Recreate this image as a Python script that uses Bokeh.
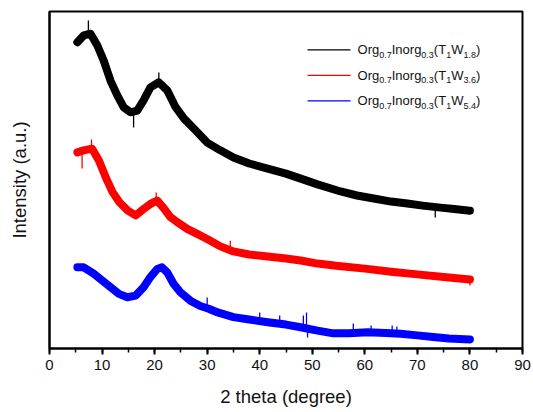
from bokeh.plotting import figure
from bokeh.models import Range1d, SingleIntervalTicker, FixedTicker, Label
from bokeh.embed import file_html
from bokeh.resources import INLINE

# ---- XRD patterns (2θ in degrees, intensity in arbitrary units, stacked) ----
theta_18 = [5.3, 6.5, 7.8, 9.1, 10.3, 11.6, 12.9, 14.1, 15.4, 16.7, 17.9, 19.2,
            20.8, 22.4, 24.0, 25.6, 27.5, 30.0, 32.5, 35.0, 38.0, 41.5, 45.0,
            47.8, 51.0, 55.4, 58.5, 61.7, 65.0, 68.1, 71.0, 74.4, 77.0, 80.0]
int_18 = [90.9, 92.9, 93.4, 89.9, 85.5, 79.5, 75.1, 71.6, 70.1, 70.6, 73.6, 77.5,
          79.0, 76.6, 71.6, 68.2, 65.2, 61.1, 58.8, 56.7, 54.9, 53.4, 51.9,
          50.4, 48.7, 46.6, 45.4, 44.5, 43.6, 43.0, 42.4, 41.8, 41.4, 40.9]

theta_36 = [5.3, 6.5, 8.1, 9.4, 10.7, 12.0, 13.3, 14.9, 16.4, 18.0, 19.2, 20.5,
            21.8, 23.0, 24.3, 26.2, 28.1, 30.0, 32.5, 35.0, 38.0, 41.5, 45.0,
            47.8, 51.0, 55.0, 60.0, 65.0, 70.0, 75.0, 80.0]
int_36 = [58.2, 58.8, 59.3, 55.8, 50.8, 46.4, 43.4, 40.9, 39.5, 41.5, 42.9, 43.9,
          41.5, 39.0, 37.5, 35.5, 34.0, 32.5, 30.3, 28.8, 27.9, 27.3, 26.7,
          26.1, 25.2, 24.5, 23.7, 22.8, 22.0, 21.2, 20.5]

theta_54 = [5.3, 6.5, 8.4, 10.0, 11.6, 13.2, 14.8, 16.4, 17.9, 19.2, 20.5, 21.4,
            22.4, 23.6, 24.9, 26.8, 28.7, 30.3, 32.0, 35.0, 38.0, 41.5, 45.0,
            47.8, 51.0, 54.0, 57.0, 60.5, 64.0, 66.8, 70.0, 73.0, 76.0, 80.0]
int_54 = [24.1, 24.1, 22.2, 20.2, 18.2, 16.2, 15.2, 15.7, 18.2, 21.2, 23.6, 24.1,
          22.6, 19.2, 16.7, 14.2, 12.6, 11.8, 10.7, 9.3, 8.6, 7.8, 7.1,
          6.3, 5.3, 4.5, 4.5, 4.8, 4.6, 4.4, 3.9, 3.4, 3.0, 2.7]

# Sharp single-point excursions (position, band level, excursion tip)
spike_18_x = [7.4, 16.0, 20.8, 73.4]
spike_18_base = [93.4, 70.3, 79.0, 41.7]
spike_18_tip = [97.3, 65.6, 81.9, 38.9]

spike_36_x = [6.2, 8.0, 20.3, 34.4, 80.0]
spike_36_base = [58.7, 59.3, 43.8, 29.1, 20.5]
spike_36_tip = [53.4, 62.0, 46.3, 32.0, 18.7]

spike_54_x = [30.0, 40.0, 43.8, 48.3, 48.9, 49.1, 57.8, 61.2, 65.2, 66.1]
spike_54_base = [11.9, 8.1, 7.3, 6.1, 6.0, 5.9, 4.6, 4.8, 4.6, 4.4]
spike_54_tip = [15.1, 10.7, 9.8, 9.8, 10.7, 3.3, 7.4, 6.8, 6.8, 6.5]

series_colors = ["#000000", "#ff0000", "#0000ff"]

FONT = "Liberation Sans"

p = figure(width=533, height=412, output_backend="svg", toolbar_location=None,
           x_range=Range1d(0, 90), y_range=Range1d(0, 100),
           min_border_left=49, min_border_right=11, min_border_top=11,
           min_border_bottom=64)
p.background_fill_color = "white"
p.border_fill_color = "white"
p.grid.visible = False
p.outline_line_color = "#000000"
p.outline_line_width = 2

curves = [(theta_18, int_18), (theta_36, int_36), (theta_54, int_54)]
spikes = [(spike_18_x, spike_18_base, spike_18_tip),
          (spike_36_x, spike_36_base, spike_36_tip),
          (spike_54_x, spike_54_base, spike_54_tip)]
for (xs, ys), (sx, sb, st), c in zip(curves, spikes, series_colors):
    # the noisy trace is drawn as a broad band around its mean level
    p.line(xs, ys, line_width=8, line_color=c, line_join="round", line_cap="round")
    p.segment(x0=sx, y0=sb, x1=sx, y1=st, line_width=1.3, line_color=c)

# ---- axes ----
xa = p.xaxis[0]
xa.ticker = SingleIntervalTicker(interval=10, num_minor_ticks=2)
xa.axis_label = "2 theta (degree)"
xa.axis_line_width = 2
xa.major_tick_in = 0
xa.major_tick_out = 6
xa.minor_tick_in = 0
xa.minor_tick_out = 4
xa.major_tick_line_width = 2
xa.minor_tick_line_width = 1.5
xa.major_label_text_font = FONT
xa.major_label_text_font_size = "15px"
xa.major_label_text_color = "#111111"
xa.major_label_standoff = 5
xa.axis_label_text_font = FONT
xa.axis_label_text_font_size = "18.5px"
xa.axis_label_text_font_style = "normal"
xa.axis_label_text_color = "#111111"
xa.axis_label_standoff = 13

ya = p.yaxis[0]
ya.ticker = FixedTicker(ticks=[])
ya.axis_label = "Intensity (a.u.)"
ya.axis_line_width = 2
ya.major_tick_line_color = None
ya.minor_tick_line_color = None
ya.axis_label_text_font = FONT
ya.axis_label_text_font_size = "18.5px"
ya.axis_label_text_font_style = "normal"
ya.axis_label_text_color = "#111111"
ya.axis_label_standoff = 20

# ---- legend (drawn by hand to allow subscripts) ----
X_PER_PX = 90 / 473.0
Y_PER_PX = 100 / 337.0
leg_x = 49.1          # left end of the swatch line, in degrees
leg_y = 88.6          # first row, in intensity units
row_px = 25.5
swatch_px = 43
text_gap_px = 7

main_size, sub_size = 13, 9
# (text, is_subscript, advance width in px); None is the W subscript of each row
pieces = [("Org", False, 21.67), ("0.7", True, 12.51), ("Inorg", False, 29.63),
          ("0.3", True, 12.51), ("(T", False, 12.27), ("1", True, 5.0),
          ("W", False, 12.27), (None, True, 12.51), (")", False, 4.33)]
w_subs = ["1.8", "3.6", "5.4"]

for i, (c, wsub) in enumerate(zip(series_colors, w_subs)):
    y_row = leg_y - i * row_px * Y_PER_PX
    p.segment(x0=[leg_x], y0=[y_row], x1=[leg_x + swatch_px * X_PER_PX], y1=[y_row],
              line_color=c, line_width=1.2)
    off = swatch_px + text_gap_px
    for txt, is_sub, adv in pieces:
        t = wsub if txt is None else txt
        p.add_layout(Label(x=leg_x, y=y_row, x_offset=off,
                           y_offset=(-5 if is_sub else 0), text=t,
                           text_font=FONT,
                           text_font_size=f"{sub_size if is_sub else main_size}px",
                           text_color="#111111", text_align="left",
                           text_baseline="middle"))
        off += adv

open("out.html", "w").write(file_html(p, INLINE))
